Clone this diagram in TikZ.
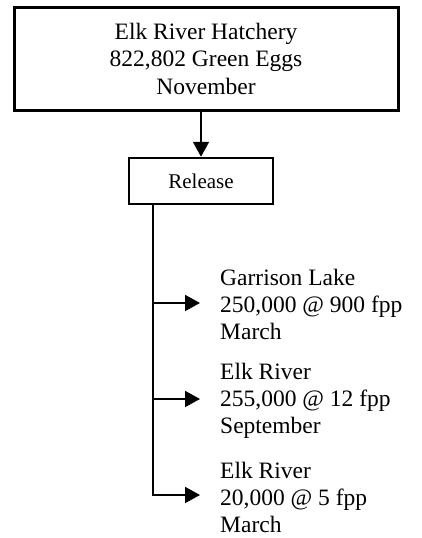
\documentclass[tikz,border=0pt]{standalone}
\usepackage{fontspec}
\setmainfont{Liberation Serif}
\usetikzlibrary{arrows.meta}
\begin{document}
\begin{tikzpicture}[x=1pt,y=-1pt,
  topbox/.style={draw,line width=3pt,minimum width=384pt,minimum height=103pt,align=center,font=\fontsize{23.5}{27.5}\selectfont,inner sep=0pt},
  relbox/.style={draw,line width=2.5pt,minimum width=144pt,minimum height=46pt,font=\fontsize{21}{24}\selectfont,inner sep=0pt},
  dest/.style={align=left,anchor=west,font=\fontsize{23.5}{27}\selectfont,inner sep=0pt},
  conn/.style={line width=2pt},
  arr/.style={conn,-{Triangle[length=15pt,width=16pt]}}]
\useasboundingbox (0,0) rectangle (422,538);
\node[topbox] (hatch) at (206,58.5) {Elk River Hatchery\\822,802 Green Eggs\\November};
\node[relbox] (rel) at (201,181) {Release};
\coordinate (c1) at (153,303);
\coordinate (c2) at (153,399);
\coordinate (c3) at (153,495);
\node[dest] (d1) at (220,304) {Garrison Lake\\250,000 @ 900 fpp\\March};
\node[dest] (d2) at (220,401) {Elk River\\255,000 @ 12 fpp\\September};
\node[dest] (d3) at (220,497) {Elk River\\20,000 @ 5 fpp\\March};
\draw[arr] (hatch.south -| rel.north) -- (rel.north);
\draw[arr,shorten >=20pt] (rel.south -| c3) -- (c3) -- (c3 -| d3.west);
\draw[arr,shorten >=20pt] (c1) -- (c1 -| d1.west);
\draw[arr,shorten >=20pt] (c2) -- (c2 -| d2.west);
\end{tikzpicture}
\end{document}
